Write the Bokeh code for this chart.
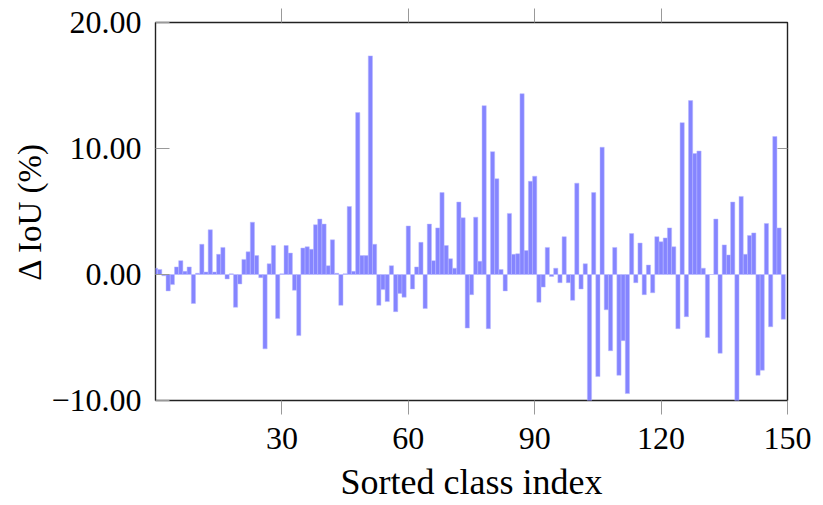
from bokeh.plotting import figure
from bokeh.models import Range1d, FixedTicker, LinearAxis, ColumnDataSource
from bokeh.embed import file_html
from bokeh.resources import INLINE

class_index = list(range(150))
delta_iou = [
    0.5, 0.4, -0.1, -1.3, -0.8, 0.6, 1.1, 0.25, 0.6, -2.3,
    0.1, 2.4, 0.2, 3.55, 0.2, 1.6, 2.15, -0.35, 0.05, -2.6,
    -0.75, 1.2, 1.8, 4.15, 1.5, -0.25, -5.9, 0.85, 2.3, -3.5,
    0.05, 2.3, 1.7, -1.25, -4.85, 2.1, 2.2, 2.0, 3.95, 4.4,
    4.0, 0.7, 2.75, 0.1, -2.45, 0.05, 5.4, 0.25, 12.85, 1.5,
    1.5, 17.35, 2.4, -2.45, -1.2, -2.15, 0.7, -2.95, -1.5, -1.8,
    3.85, -1.15, 0.6, 2.55, -2.7, 4.0, 1.1, 3.7, 6.5, 2.3,
    1.25, 0.5, 5.75, 4.5, -4.25, -1.6, 4.55, 1.05, 13.4, -4.3,
    9.75, 7.6, 0.4, -1.3, 4.85, 1.6, 1.65, 14.35, 1.9, 7.4,
    7.8, -2.2, -1.0, 2.15, -0.15, 0.5, -0.65, 3.0, -0.65, -2.05,
    7.25, -1.15, 0.85, -10.5, 6.5, -8.1, 10.1, -2.8, -6.05, 2.15,
    -8.0, -5.25, -9.45, 3.25, -0.65, 2.5, -1.6, 0.75, -1.45, 3.0,
    2.6, 2.9, 3.7, 2.2, -4.3, 12.05, -3.35, 13.8, 9.6, 9.8,
    0.5, -5.0, 0.0, 4.4, -6.25, 2.35, 1.55, 5.75, -10.8, 6.2,
    1.6, 3.1, 3.3, -8.0, -7.6, 4.05, -4.15, 10.95, 3.7, -3.55,
]
x_ticks = [30, 60, 90, 120, 150]
y_ticks = [-10, 0, 10, 20]
y_tick_labels = ["\u221210.00", "0.00", "10.00", "20.00"]

FONT = "Liberation Serif"

p = figure(width=823, height=505, output_backend="svg", toolbar_location=None,
           x_range=Range1d(0, 150), y_range=Range1d(-10, 20),
           min_border_left=155, min_border_right=36, min_border_top=22,
           min_border_bottom=105)
p.frame_width = 632
p.frame_height = 378
p.xgrid.visible = False
p.ygrid.visible = False
p.outline_line_color = "#222222"
p.outline_line_width = 1.4
p.background_fill_color = "white"
p.border_fill_color = "white"

src = ColumnDataSource(dict(x=class_index, top=delta_iou))
p.vbar(x="x", top="top", bottom=0, width=1.0, source=src,
       fill_color="#8585ff", line_color="#b8b8ff", line_width=0.5)

# left axis
ya = p.yaxis[0]
ya.ticker = FixedTicker(ticks=y_ticks)
ya.major_label_overrides = {t: l for t, l in zip(y_ticks, y_tick_labels)}
ya.major_tick_in = 14
ya.major_tick_out = 0
ya.minor_tick_in = 0
ya.minor_tick_out = 0
ya.major_tick_line_color = "#999999"
ya.axis_line_color = None
ya.major_label_text_font = FONT
ya.major_label_text_font_size = "32px"
ya.major_label_text_color = "black"
ya.major_label_standoff = 14
ya.axis_label = "\u0394 IoU (%)"
ya.axis_label_text_font = FONT
ya.axis_label_text_font_size = "33px"
ya.axis_label_text_font_style = "normal"
ya.axis_label_text_color = "black"
ya.axis_label_standoff = 0

# bottom axis
xa = p.xaxis[0]
xa.ticker = FixedTicker(ticks=x_ticks)
xa.major_tick_in = 0
xa.major_tick_out = 14
xa.minor_tick_in = 0
xa.minor_tick_out = 0
xa.major_tick_line_color = "#999999"
xa.axis_line_color = None
xa.major_label_text_font = FONT
xa.major_label_text_font_size = "32px"
xa.major_label_text_color = "black"
xa.major_label_standoff = 13
xa.axis_label = "Sorted class index"
xa.axis_label_text_font = FONT
xa.axis_label_text_font_size = "36px"
xa.axis_label_text_font_style = "normal"
xa.axis_label_text_color = "black"
xa.axis_label_standoff = 10

# top axis (ticks only)
ta = LinearAxis(ticker=FixedTicker(ticks=x_ticks[:-1]))
ta.major_tick_in = 0
ta.major_tick_out = 14
ta.minor_tick_in = 0
ta.minor_tick_out = 0
ta.major_tick_line_color = "#999999"
ta.axis_line_color = None
ta.major_label_overrides = {t: "" for t in x_ticks[:-1]}
ta.major_label_standoff = 0
p.add_layout(ta, "above")

# right axis (ticks only)
ra = LinearAxis(ticker=FixedTicker(ticks=[10]))
ra.major_tick_in = 10
ra.major_tick_out = 0
ra.minor_tick_in = 0
ra.minor_tick_out = 0
ra.major_tick_line_color = "#999999"
ra.axis_line_color = None
ra.major_label_overrides = {10: ""}
ra.major_label_standoff = 0
p.add_layout(ra, "right")

open("out.html", "w").write(file_html(p, INLINE))
